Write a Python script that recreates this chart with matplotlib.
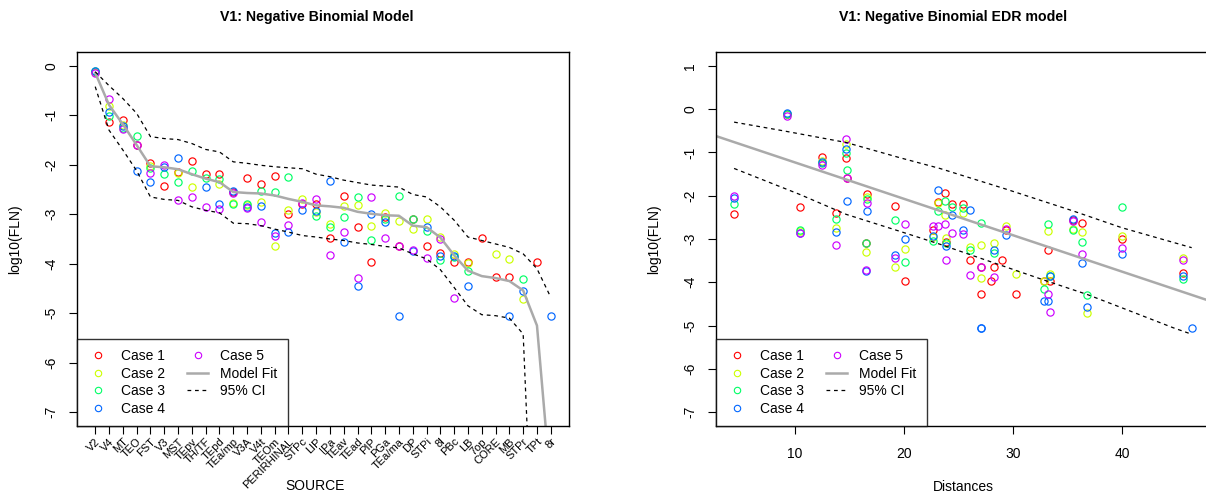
import numpy as np
import matplotlib
matplotlib.use("Agg")
import matplotlib.pyplot as plt
from matplotlib.lines import Line2D

plt.rcParams["font.family"] = ["Liberation Sans", "DejaVu Sans"]
plt.rcParams["font.size"] = 10
plt.rcParams["axes.unicode_minus"] = False

# source areas (x axis of the left panel)
sources = ["V2", "V4", "MT", "TEO", "FST", "V3", "MST", "TEpv", "TH/TF", "TEpd",
           "TEa/mp", "V3A", "V4t", "TEOm", "PERIRHINAL", "STPc", "LIP", "IPa",
           "TEav", "TEad", "PIP", "PGa", "TEa/ma", "DP", "STPi", "8l", "PBc",
           "LB", "7op", "CORE", "MB", "STPr", "TPt", "8r"]

# distance of every source (right panel)
distances = [9.3, 14.7, 12.45, 14.8, 16.6, 4.45, 23.1, 23.8, 24.4, 25.4,
             35.5, 10.45, 13.8, 19.2, 40.0, 29.4, 22.7, 26.1,
             36.3, 33.2, 20.1, 23.9, 27.1, 16.5, 28.3, 45.6, 33.4,
             32.9, 29.0, 30.3, 27.1, 36.8, 28.0, 46.4]

nan = np.nan
# log10(FLN), one list per case
case1 = [-0.12, -1.13, -1.10, -1.59, -1.97, -2.42, -2.14, -1.93, -2.19, -2.19,
         -2.55, -2.27, -2.39, -2.23, -3.00, -2.80, -2.80, -3.48,
         -2.64, -3.26, -3.96, -3.06, -3.65, -3.09, -3.65, -3.79, -3.96,
         -3.96, -3.48, -4.26, -4.26, nan, -3.96, nan]
case2 = [-0.12, -0.81, -1.20, nan, -2.03, nan, -2.16, -2.45, nan, -2.39,
         -2.78, -2.82, -2.75, -3.65, -2.92, -2.70, -2.95, -3.19,
         -2.83, -2.82, -3.24, -2.98, -3.14, -3.29, -3.09, -3.45, -3.80,
         -3.98, nan, -3.80, -3.90, -4.71, nan, nan]
case3 = [-0.11, -1.01, -1.25, -1.41, -2.07, -2.19, -2.35, -2.12, -2.27, -2.28,
         -2.80, -2.80, -2.53, -2.55, -2.25, nan, -3.04, -3.25,
         -3.06, -2.65, -3.52, -3.10, -2.63, -3.09, -3.33, -3.92, -3.86,
         -4.15, nan, nan, nan, -4.30, nan, nan]
case4 = [-0.10, -0.93, -1.22, -2.12, -2.35, -2.05, -1.87, nan, -2.45, -2.79,
         -2.53, -2.85, -2.84, -3.38, -3.35, -2.91, -2.93, -2.33,
         -3.56, -4.44, -2.99, -3.16, -5.05, -3.75, -3.26, -3.85, -3.85,
         -4.44, nan, nan, -5.05, -4.56, nan, -5.05]
case5 = [-0.15, -0.68, -1.28, -1.59, -2.16, -2.00, -2.71, -2.65, -2.85, -2.89,
         -2.58, -2.87, -3.15, -3.44, -3.21, -2.77, -2.70, -3.83,
         -3.35, -4.28, -2.65, -3.48, -3.65, -3.72, -3.88, -3.49, -4.69,
         nan, nan, nan, nan, nan, nan, nan]

# negative binomial model fit and 95% CI per source
nb_fit = [-0.14, -0.79, -1.18, -1.60, -2.03, -2.05, -2.09, -2.19, -2.28, -2.35,
          -2.55, -2.57, -2.58, -2.62, -2.69, -2.75, -2.82, -2.84,
          -2.87, -2.95, -2.99, -3.02, -3.03, -3.23, -3.26, -3.47, -3.83,
          -4.14, -4.25, -4.29, -4.35, -4.54, -5.25, -8.5]
nb_upper = [-0.12, -0.40, -0.66, -0.96, -1.43, -1.47, -1.49, -1.57, -1.69, -1.74,
            -1.94, -1.97, -2.01, -2.04, -2.06, -2.08, -2.19, -2.24,
            -2.31, -2.36, -2.41, -2.43, -2.45, -2.60, -2.65, -2.85, -3.12,
            -3.46, -3.53, -3.60, -3.67, -3.80, -4.10, -4.68]
nb_lower = [-0.42, -1.30, -1.70, -2.12, -2.65, -2.70, -2.72, -2.85, -2.92, -2.97,
            -3.18, -3.19, -3.23, -3.30, -3.36, -3.43, -3.46, -3.50,
            -3.53, -3.58, -3.61, -3.65, -3.68, -3.80, -3.90, -4.12, -4.48,
            -4.85, -5.03, -5.05, -5.10, -5.42, -12.0, -15.0]

# EDR model: log10(FLN) = a + b * distance, with CI read at some distances
edr_intercept = -0.389
edr_slope = -0.0841
ci_up_dist = [4.43, 8.93, 14.7, 19.6, 23.3, 29.4, 35.5, 40.0, 46.4]
ci_up_val = [-0.30, -0.50, -0.77, -1.12, -1.37, -1.85, -2.35, -2.74, -3.20]
ci_lo_dist = [4.43, 10.45, 14.7, 19.6, 23.3, 26.4, 33.1, 36.8, 40.0, 44.7, 46.4]
ci_lo_val = [-1.37, -1.97, -2.43, -2.82, -3.12, -3.39, -3.97, -4.28, -4.59, -5.05, -5.20]

cases = [case1, case2, case3, case4, case5]
case_names = ["Case 1", "Case 2", "Case 3", "Case 4", "Case 5"]
colors = ["#FF0000", "#CCFF00", "#00FF66", "#0066FF", "#CC00FF"]
fit_col = "#AAAAAA"
dash = (0, (3, 3))

W, H = 1206, 495
fig = plt.figure(figsize=(W / 100, H / 100), dpi=100)
ax1 = fig.add_axes([77 / W, 1 - 426 / H, (569 - 77) / W, (426 - 52) / H])
ax2 = fig.add_axes([716 / W, 1 - 426 / H, (1210 - 716) / W, (426 - 52) / H])

idx = np.arange(len(sources))


def legend_(ax):
    handles = [Line2D([], [], ls="none", marker="o", mfc="none", mec=c,
                      ms=4.6, mew=0.8) for c in colors]
    handles = handles[:4] + [handles[4],
                             Line2D([], [], color=fit_col, lw=1.8),
                             Line2D([], [], color="k", lw=0.9, ls=dash)]
    labels = case_names[:4] + ["Case 5", "Model Fit", "95% CI"]
    leg = ax.legend(handles, labels, loc="lower left", ncol=2, frameon=True,
                    fancybox=False, edgecolor="black", borderaxespad=0,
                    labelspacing=0.25, handlelength=1.5, handletextpad=0.9,
                    columnspacing=1.6, borderpad=0.75, fontsize=10)
    leg.get_frame().set_linewidth(1.0)


def style_(ax, xpad):
    for s in ax.spines.values():
        s.set_linewidth(1.0)
    ax.tick_params(direction="out", length=5.5, width=0.8, labelsize=10)
    ax.tick_params(axis="y", pad=8)
    ax.tick_params(axis="x", pad=xpad)


# left: negative binomial model
for vals, c in zip(cases, colors):
    ax1.plot(idx, vals, ls="none", marker="o", mfc="none", mec=c, ms=5.2, mew=0.85)
ax1.plot(idx, nb_fit, color=fit_col, lw=1.8)
ax1.plot(idx, nb_upper, color="k", lw=0.9, ls=dash)
ax1.plot(idx, nb_lower, color="k", lw=0.9, ls=dash)
ax1.set_xlim(-1.32, 34.32)
ax1.set_ylim(-7.28, 0.28)
style_(ax1, 2.0)
ax1.set_yticks(range(-7, 1))
ax1.set_yticklabels([str(v) for v in range(-7, 1)], rotation=90, va="center")
ax1.set_xticks(idx)
ax1.set_xticklabels(sources, rotation=45, ha="right", rotation_mode="anchor",
                    fontsize=8.0)
ax1.set_ylabel("log10(FLN)", labelpad=16)
ax1.set_title("V1: Negative Binomial Model", fontweight="bold", fontsize=10.2,
              pad=22, x=0.487)
ax1.set_xlabel("SOURCE")
ax1.xaxis.set_label_coords(0.483, -0.142)
legend_(ax1)

# right: EDR model
for vals, c in zip(cases, colors):
    ax2.plot(distances, vals, ls="none", marker="o", mfc="none", mec=c, ms=5.2,
             mew=0.85)
ax2.axline((0, edr_intercept), slope=edr_slope, color=fit_col, lw=1.8)
ax2.plot(ci_up_dist, ci_up_val, color="k", lw=0.9, ls=dash)
ax2.plot(ci_lo_dist, ci_lo_val, color="k", lw=0.9, ls=dash)
ax2.set_xlim(2.77, 48.08)
ax2.set_ylim(-7.32, 1.32)
style_(ax2, 9.5)
ax2.set_yticks(range(-7, 2))
ax2.set_yticklabels([str(v) for v in range(-7, 2)], rotation=90, va="center")
ax2.set_xticks([10, 20, 30, 40])
ax2.set_xlabel("Distances", labelpad=14)
ax2.set_ylabel("log10(FLN)", labelpad=16)
ax2.set_title("V1: Negative Binomial EDR model", fontweight="bold", fontsize=10.2,
              pad=22, x=0.48)
legend_(ax2)

fig.savefig("out.png", dpi=100)
